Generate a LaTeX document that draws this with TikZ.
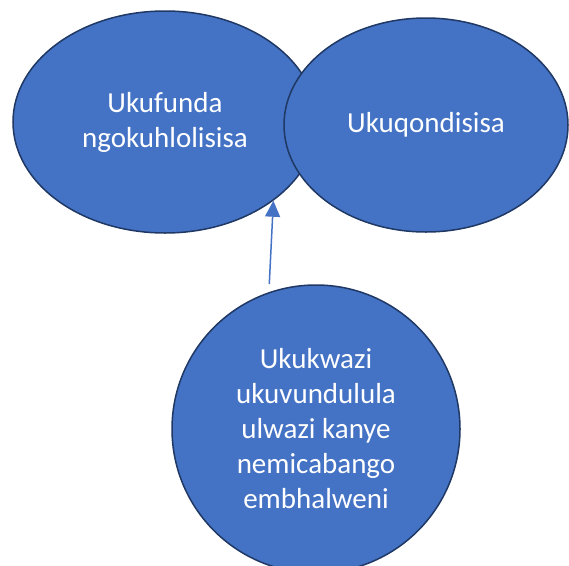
\documentclass[tikz,border=0pt]{standalone}
\usepackage{fontspec}
\setmainfont{Carlito}
\usepackage{xcolor}
\usepackage{tikz}
\usetikzlibrary{positioning, arrows.meta, shapes.geometric}
\definecolor{officeblue}{HTML}{4472C4}
\definecolor{darknavy}{HTML}{1F3864}

\begin{document}
\begin{tikzpicture}[x=1pt, y=-1pt,
  bubble/.style={ellipse, fill=officeblue, draw=darknavy, line width=1.5pt,
        inner sep=0pt, text=white, align=center, font=\fontsize{29}{35}\selectfont},
  link/.style={-{Triangle[length=16pt, width=15pt]}, draw=officeblue, line width=1.5pt}]
  \useasboundingbox (0,0) rectangle (569,565);
  \node[bubble, minimum width=304pt, minimum height=222pt] (learn) at (165,122)
    {Ukufunda\\ngokuhlolisisa};
  \node[bubble, minimum width=284pt, minimum height=214pt] (understand) at (426,125)
    {Ukuqondisisa};
  \node[bubble, circle, minimum size=288pt] (know) at (316,429)
    {Ukukwazi\\ukuvundulula\\ulwazi kanye\\nemicabango\\embhalweni};
  \draw[link, shorten <=8pt] (know.109) -- (learn.-36);
\end{tikzpicture}
\end{document}
